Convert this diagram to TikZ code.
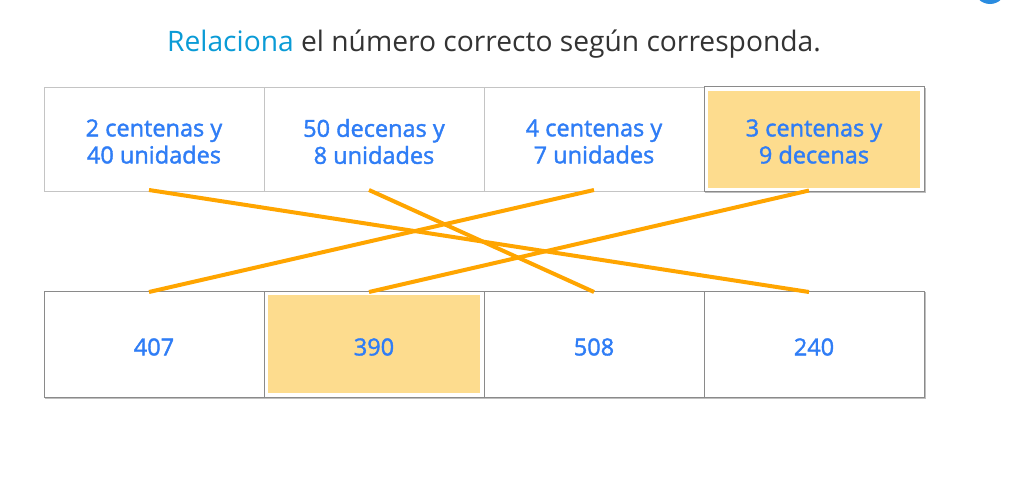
\documentclass[tikz,border=0pt]{standalone}
\usepackage{fontspec}
\setmainfont{Open Sans}
\newfontfamily\boxfont[FakeBold=1.6]{Open Sans}
\definecolor{txtblue}{HTML}{2F7DF6}
\definecolor{titleblue}{HTML}{0A9BD6}
\definecolor{titlegray}{HTML}{333333}
\definecolor{lightborder}{HTML}{C4C4C4}
\definecolor{darkborder}{HTML}{8A8A8A}
\definecolor{selfill}{HTML}{FDDC8E}
\definecolor{linkorange}{HTML}{FFA500}
\definecolor{dotblue}{HTML}{2A8CE0}
\tikzset{
  cell/.style={draw=lightborder, fill=white, line width=1pt, minimum width=220pt, minimum height=104pt, inner sep=0pt},
  darkcell/.style={cell, draw=darkborder, minimum height=106pt},
  selcell/.style={fill=white, draw=darkborder, line width=1pt, minimum width=220pt, inner sep=0pt},
  selinner/.style={fill=selfill, draw=none, inner sep=0pt},
  celltext/.style={inner sep=0pt, text=txtblue, font=\boxfont\fontsize{23.5}{27}\selectfont, align=center},
  link/.style={draw=linkorange, line width=4pt},
  shadow/.style={fill=black!25, draw=none}
}
\begin{document}
\begin{tikzpicture}[x=1pt,y=-1pt]
\useasboundingbox[fill=white] (0,0) rectangle (1010,490);
% partial circle at top right
\begin{scope}
\clip (0,0) rectangle (1010,490);
\fill[dotblue] (990,-12) circle (16);
\end{scope}
% title
\node[font=\fontsize{28.2}{33}\selectfont, anchor=center] (title) at (494,44)
  {\textcolor{titleblue}{Relaciona} \textcolor{titlegray}{el número correcto según corresponda.}};
% shadows
\fill[shadow] (705,88) rectangle (926,193);
\fill[shadow] (45,292) rectangle (926,399);
% top row
\node[cell] (t1) at (154,139) {};
\node[cell] (t2) at (374,139) {};
\node[cell] (t3) at (594,139) {};
\node[selcell, minimum height=105pt] (t4) at (814,139) {};
\node[selinner, minimum width=212pt, minimum height=97pt] (t4in) at (t4.center) {};
\node[celltext] (t1txt) at ([yshift=-2.5pt]t1.center) {2 centenas y\\40 unidades};
\node[celltext] (t2txt) at ([yshift=-2.5pt]t2.center) {50 decenas y\\8 unidades};
\node[celltext] (t3txt) at ([yshift=-2.5pt]t3.center) {4 centenas y\\7 unidades};
\node[celltext] (t4txt) at ([yshift=-2.5pt]t4.center) {3 centenas y\\9 decenas};
% bottom row
\node[darkcell] (b1) at (154,344) {};
\node[selcell, minimum height=106pt] (b2) at (374,344) {};
\node[selinner, minimum width=212pt, minimum height=98pt] (b2in) at (b2.center) {};
\node[darkcell] (b3) at (594,344) {};
\node[darkcell] (b4) at (814,344) {};
\node[celltext] (b1txt) at ([yshift=-3pt]b1.center) {407};
\node[celltext] (b2txt) at ([yshift=-3pt]b2.center) {390};
\node[celltext] (b3txt) at ([yshift=-3pt]b3.center) {508};
\node[celltext] (b4txt) at ([yshift=-3pt]b4.center) {240};
% connectors
\coordinate (s1) at ([xshift=-5pt]t1.south);
\coordinate (s2) at ([xshift=-5pt]t2.south);
\coordinate (s3) at ([xshift=0pt]t3.south);
\coordinate (s4) at ([xshift=-5pt]t4.south);
\coordinate (e1) at ([xshift=-5pt]b1.north);
\coordinate (e2) at ([xshift=-5pt]b2.north);
\coordinate (e3) at ([xshift=0pt]b3.north);
\coordinate (e4) at ([xshift=-5pt]b4.north);
\draw[link] ([yshift=1.5pt]s1) -- ([yshift=-1.5pt]e4);
\draw[link] ([yshift=1.5pt]s2) -- ([yshift=-1.5pt]e3);
\draw[link] ([yshift=1.5pt]s3) -- ([yshift=-1.5pt]e1);
\draw[link] ([yshift=1.5pt]s4) -- ([yshift=-1.5pt]e2);
\end{tikzpicture}
\end{document}
